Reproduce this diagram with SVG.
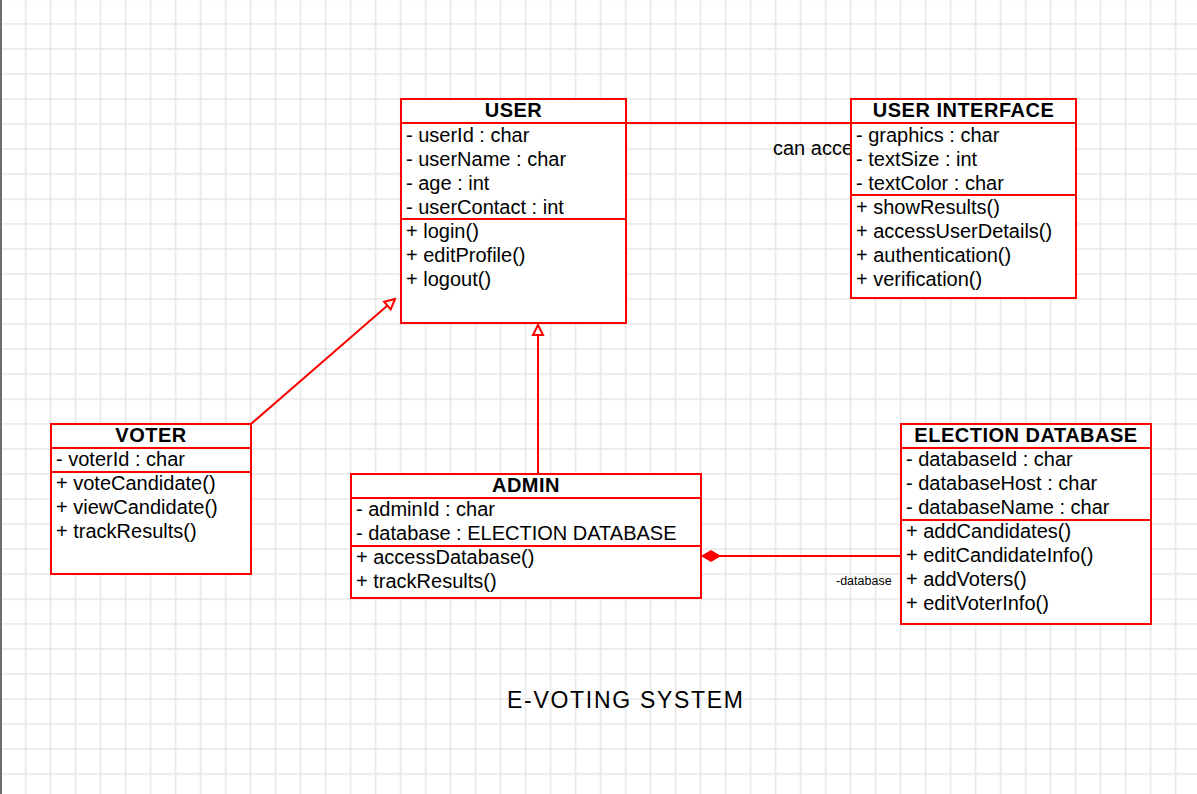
<svg xmlns="http://www.w3.org/2000/svg" width="1197" height="794" viewBox="0 0 1197 794">
<style>
.box{fill:#ffffff;stroke:#ff0000;stroke-width:2}
.sep{stroke:#ff0000;stroke-width:2;fill:none}
.t{font-family:"Liberation Sans",Arial,sans-serif;font-size:20px;fill:#000000}
.h{font-family:"Liberation Sans",Arial,sans-serif;font-size:20px;font-weight:bold;fill:#000000;text-anchor:middle;letter-spacing:0.5px}
.edge{stroke:#ff0000;stroke-width:2;fill:none}
.lbl{font-family:"Liberation Sans",Arial,sans-serif;fill:#000000}
</style>
<defs>
<pattern id="grid" patternUnits="userSpaceOnUse" x="24.75" y="23.25" width="25" height="25">
<rect x="0" y="0" width="1.5" height="25" fill="#e6e6e6"/>
<rect x="0" y="0" width="25" height="1.5" fill="#e6e6e6"/>
</pattern>
<marker id="gen" markerUnits="userSpaceOnUse" markerWidth="14" markerHeight="14" viewBox="-2 -2 14 14" refX="10" refY="5" orient="auto">
<path d="M0,0 L10,5 L0,10 Z" fill="#ffffff" stroke="#ff0000" stroke-width="2"/>
</marker>
<marker id="comp" markerUnits="userSpaceOnUse" markerWidth="22" markerHeight="14" viewBox="0 0 22 14" refX="21" refY="7" orient="auto">
<path d="M1,7 L11,1 L21,7 L11,13 Z" fill="#ff0000"/>
</marker>
</defs>
<rect x="0" y="0" width="1197" height="794" fill="#ffffff"/>
<rect x="0" y="0" width="1197" height="794" fill="url(#grid)"/>
<rect x="0" y="0" width="2" height="794" fill="#6e6e6e"/>

<g id="connectors">
<path class="edge" d="M626 123 H851"/>
<text class="lbl" x="773" y="155" font-size="20">can acce</text>
<path class="edge" d="M251 424 L395 299" marker-end="url(#gen)"/>
<path class="edge" d="M538 474 V325" marker-end="url(#gen)"/>
<path class="edge" d="M901 556 H701" marker-end="url(#comp)"/>
<text class="lbl" x="836" y="585" font-size="12.5">-database</text>
</g>

<g id="user">
<rect class="box" x="401" y="99" width="225" height="224"/>
<path class="sep" d="M401 123 H626 M401 219 H626"/>
<text class="h" x="513.5" y="117">USER</text>
<text class="t" x="406" y="142">- userId : char</text>
<text class="t" x="406" y="166">- userName : char</text>
<text class="t" x="406" y="190">- age : int</text>
<text class="t" x="406" y="214">- userContact : int</text>
<text class="t" x="406" y="238">+ login()</text>
<text class="t" x="406" y="262">+ editProfile()</text>
<text class="t" x="406" y="286">+ logout()</text>
</g>

<g id="user-interface">
<rect class="box" x="851" y="99" width="225" height="199"/>
<path class="sep" d="M851 123 H1076 M851 195 H1076"/>
<text class="h" x="963.5" y="117">USER INTERFACE</text>
<text class="t" x="856" y="142">- graphics : char</text>
<text class="t" x="856" y="166">- textSize : int</text>
<text class="t" x="856" y="190">- textColor : char</text>
<text class="t" x="856" y="214">+ showResults()</text>
<text class="t" x="856" y="238">+ accessUserDetails()</text>
<text class="t" x="856" y="262">+ authentication()</text>
<text class="t" x="856" y="286">+ verification()</text>
</g>

<g id="voter">
<rect class="box" x="51" y="424" width="200" height="150"/>
<path class="sep" d="M51 448 H251 M51 472 H251"/>
<text class="h" x="151" y="442">VOTER</text>
<text class="t" x="56" y="466">- voterId : char</text>
<text class="t" x="56" y="490">+ voteCandidate()</text>
<text class="t" x="56" y="514">+ viewCandidate()</text>
<text class="t" x="56" y="538">+ trackResults()</text>
</g>

<g id="admin">
<rect class="box" x="351" y="474" width="350" height="124"/>
<path class="sep" d="M351 498 H701 M351 546 H701"/>
<text class="h" x="526" y="492">ADMIN</text>
<text class="t" x="356" y="516">- adminId : char</text>
<text class="t" x="356" y="540">- database : ELECTION DATABASE</text>
<text class="t" x="356" y="564">+ accessDatabase()</text>
<text class="t" x="356" y="588">+ trackResults()</text>
</g>

<g id="election-database">
<rect class="box" x="901" y="424" width="250" height="200"/>
<path class="sep" d="M901 448 H1151 M901 520 H1151"/>
<text class="h" x="1026" y="442">ELECTION DATABASE</text>
<text class="t" x="906" y="466">- databaseId : char</text>
<text class="t" x="906" y="490">- databaseHost : char</text>
<text class="t" x="906" y="514">- databaseName : char</text>
<text class="t" x="906" y="538">+ addCandidates()</text>
<text class="t" x="906" y="562">+ editCandidateInfo()</text>
<text class="t" x="906" y="586">+ addVoters()</text>
<text class="t" x="906" y="610">+ editVoterInfo()</text>
</g>

<g id="title">
<text class="lbl" x="507" y="708" font-size="23" textLength="236" lengthAdjust="spacing">E-VOTING SYSTEM</text>
</g>
</svg>
